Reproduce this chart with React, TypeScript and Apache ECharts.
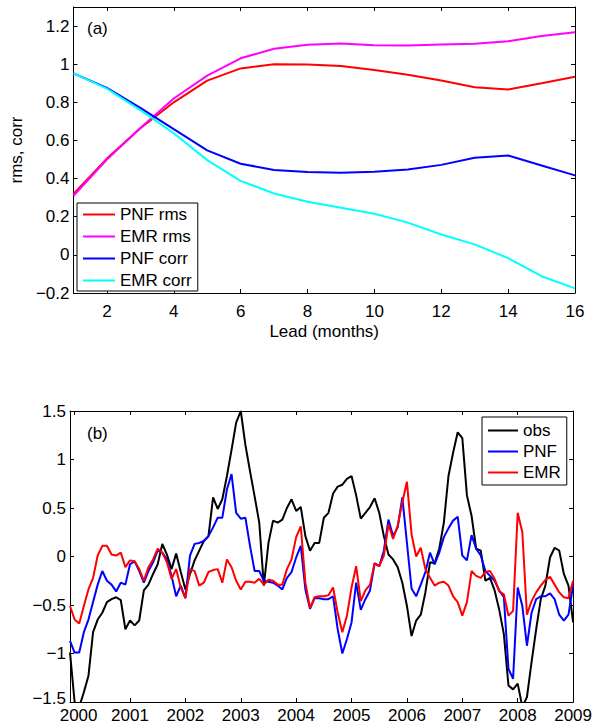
import React, { useEffect, useRef } from 'react';
import * as echarts from 'echarts';

// Panel (a): skill vs lead time
const leads = [1, 2, 3, 4, 5, 6, 7, 8, 9, 10, 11, 12, 13, 14, 15, 16];
const pnfRms = [0.32, 0.505, 0.664, 0.80, 0.914, 0.978, 1.0, 0.998, 0.99, 0.97, 0.945, 0.914, 0.879, 0.867, 0.90, 0.934];
const emrRms = [0.31, 0.50, 0.665, 0.82, 0.94, 1.031, 1.081, 1.102, 1.109, 1.10, 1.098, 1.103, 1.107, 1.12, 1.148, 1.167];
const pnfCorr = [0.952, 0.876, 0.771, 0.659, 0.548, 0.478, 0.445, 0.434, 0.431, 0.436, 0.448, 0.472, 0.509, 0.521, 0.469, 0.417];
const emrCorr = [0.952, 0.872, 0.759, 0.638, 0.497, 0.388, 0.322, 0.279, 0.247, 0.216, 0.169, 0.107, 0.055, -0.017, -0.112, -0.176];
const topXTicks = [2, 4, 6, 8, 10, 12, 14, 16];
const topYTicks = [-0.2, 0, 0.2, 0.4, 0.6, 0.8, 1, 1.2];

// Panel (b): monthly series, first sample Dec 1999
const firstMonth = 1999 + 11 / 12;
const obs = [
  -0.99, -1.50, -1.55, -1.40, -1.23, -0.78, -0.65, -0.58, -0.47, -0.44,
  -0.42, -0.45, -0.75, -0.66, -0.71, -0.66, -0.35, -0.29, -0.18, -0.08,
  0.13, 0.02, -0.13, 0.03, -0.16, -0.34, -0.18, -0.04, 0.06, 0.16,
  0.21, 0.61, 0.49, 0.59, 0.83, 1.10, 1.38, 1.50, 1.15, 0.88,
  0.62, 0.35, -0.30, 0.14, 0.37, 0.35, 0.38, 0.50, 0.59, 0.47,
  0.51, 0.21, 0.06, 0.14, 0.14, 0.40, 0.45, 0.65, 0.72, 0.74,
  0.80, 0.83, 0.63, 0.39, 0.45, 0.51, 0.60, 0.45, 0.21, 0.02,
  -0.03, -0.11, -0.27, -0.51, -0.82, -0.66, -0.60, -0.37, -0.06, -0.07,
  0.08, 0.35, 0.83, 1.07, 1.28, 1.22, 0.63, 0.42, 0.08, 0.06,
  -0.25, -0.22, -0.35, -0.55, -0.80, -1.33, -1.37, -1.31, -1.55, -1.45,
  -1.09, -0.75, -0.44, -0.30, -0.01, 0.09, 0.06, -0.18, -0.30, -0.68,
];
const pnf = [
  -0.87, -0.99, -0.99, -0.78, -0.65, -0.47, -0.29, -0.15, -0.25, -0.29,
  -0.36, -0.27, -0.29, -0.08, -0.05, -0.15, -0.27, -0.15, -0.06, 0.06,
  0.04, -0.03, -0.20, -0.41, -0.30, -0.43, 0.01, 0.13, 0.14, 0.16,
  0.21, 0.30, 0.40, 0.40, 0.69, 0.85, 0.45, 0.39, 0.40, 0.11,
  -0.15, -0.15, -0.25, -0.26, -0.27, -0.30, -0.34, -0.22, -0.16, -0.01,
  0.11, -0.34, -0.54, -0.43, -0.43, -0.44, -0.44, -0.41, -0.75, -1.00,
  -0.85, -0.68, -0.27, -0.55, -0.44, -0.35, -0.07, -0.10, 0.06, 0.38,
  0.21, 0.30, 0.61, 0.14, -0.33, -0.41, -0.29, -0.16, 0.04, -0.08,
  0.04, 0.20, 0.29, 0.37, 0.41, 0.01, -0.04, 0.22, 0.08, 0.01,
  -0.15, -0.20, -0.25, -0.35, -0.42, -1.16, -1.26, -0.32, -0.51, -0.92,
  -0.58, -0.44, -0.41, -0.41, -0.38, -0.44, -0.60, -0.66, -0.60, -0.30,
];
const emr = [
  -0.51, -0.65, -0.69, -0.51, -0.34, -0.22, 0.01, 0.11, 0.11, 0.02,
  0.01, 0.04, -0.11, -0.04, -0.05, -0.13, -0.25, -0.11, -0.03, 0.08,
  0.04, -0.06, -0.23, -0.13, -0.32, -0.43, -0.13, -0.15, -0.30, -0.27,
  -0.16, -0.14, -0.13, -0.27, -0.03, -0.11, -0.25, -0.34, -0.26, -0.26,
  -0.27, -0.23, -0.29, -0.24, -0.25, -0.29, -0.29, -0.13, -0.03, 0.20,
  0.31, -0.27, -0.53, -0.42, -0.41, -0.41, -0.40, -0.32, -0.58, -0.78,
  -0.61, -0.32, -0.10, -0.46, -0.35, -0.29, -0.07, -0.10, 0.01, 0.33,
  0.18, 0.32, 0.56, 0.77, 0.23, 0.00, 0.09, -0.13, -0.22, -0.30,
  -0.27, -0.26, -0.30, -0.41, -0.47, -0.61, -0.47, -0.15, -0.20, -0.22,
  -0.16, -0.15, -0.23, -0.36, -0.39, -0.61, -0.56, 0.45, 0.25, -0.60,
  -0.46, -0.37, -0.30, -0.24, -0.21, -0.29, -0.37, -0.42, -0.43, -0.25,
];
const botXTicks = [2000, 2001, 2002, 2003, 2004, 2005, 2006, 2007, 2008, 2009];
const botYTicks = [-1.5, -1, -0.5, 0, 0.5, 1, 1.5];

const FONT = '"Liberation Sans", Arial, Helvetica, sans-serif';

const fmt = (v: number) => {
  const r = Math.round(v * 100) / 100;
  return r < 0 ? '\u2212' + String(Math.abs(r)) : String(r);
};

function axisPair(
  kind: 'x' | 'y',
  gridIndex: number,
  min: number,
  max: number,
  ticks: number[],
  margin: number,
  extra: any = {},
  labelExtra: any = {}
) {
  const common = {
    type: 'value',
    gridIndex,
    min,
    max,
    splitLine: { show: false },
    axisLine: { show: true, onZero: false, lineStyle: { color: '#000', width: 1 } },
  };
  const main = {
    ...common,
    position: kind === 'x' ? 'bottom' : 'left',
    axisTick: { show: true, inside: true, length: 4, customValues: ticks, lineStyle: { color: '#000' } },
    axisLabel: {
      show: true,
      customValues: ticks,
      margin,
      formatter: (v: number) => fmt(v),
      color: '#000',
      fontSize: 17,
      fontFamily: FONT,
      ...labelExtra,
    },
    ...extra,
  };
  const mirror = {
    ...common,
    position: kind === 'x' ? 'top' : 'right',
    axisTick: { show: true, inside: true, length: 4, customValues: ticks, lineStyle: { color: '#000' } },
    axisLabel: { show: false },
  };
  return [main, mirror];
}

export default function App() {
  const ref = useRef<HTMLDivElement>(null);

  useEffect(() => {
    if (!ref.current) return;
    const chart = echarts.init(ref.current, undefined, { renderer: 'svg' });

    const [x0, x1] = axisPair('x', 0, 1, 16, topXTicks, 10, {
      name: 'Lead (months)',
      nameLocation: 'middle',
      nameGap: 30,
      nameTextStyle: { fontSize: 17, fontFamily: FONT, color: '#000' },
    });
    const [y0, y1] = axisPair('y', 0, -0.2, 1.3, topYTicks, 4, {
      name: 'rms, corr',
      nameLocation: 'middle',
      nameGap: 45,
      nameTextStyle: { fontSize: 17, fontFamily: FONT, color: '#000' },
    });
    const [x2, x3] = axisPair('x', 1, firstMonth, 2009, botXTicks, 5, {}, {
      formatter: (v: number) => (Math.round(v) === botXTicks[0] ? '{first|' + fmt(v) + '}' : fmt(v)),
      rich: { first: { fontSize: 17, fontFamily: FONT, color: '#000', padding: [0, 0, 0, 8] } },
    });
    const [y2, y3] = axisPair('y', 1, -1.5, 1.5, botYTicks, 4, {}, {
      formatter: (v: number) => (Math.abs(v - botYTicks[0]) < 1e-6 ? '{low|' + fmt(v) + '}' : fmt(v)),
      rich: { low: { fontSize: 17, fontFamily: FONT, color: '#000', padding: [0, 0, 8, 0] } },
    });

    const topPairs = (arr: number[]) => leads.map((l, i) => [l, arr[i]]);
    const botPairs = (arr: number[]) => arr.map((v, i) => [firstMonth + i / 12, v]);

    const line = (name: string, color: string, data: number[][], xi: number, yi: number) => ({
      name,
      type: 'line',
      xAxisIndex: xi,
      yAxisIndex: yi,
      data,
      symbol: 'none',
      showSymbol: false,
      clip: true,
      lineStyle: { color, width: 2 },
      itemStyle: { color },
      emphasis: { disabled: true },
    });

    const legendText = { fontSize: 17, fontFamily: FONT, color: '#000' };
    const legendItems = (names: string[]) => names.map((n) => ({ name: n, icon: 'rect' }));

    chart.setOption({
      animation: false,
      textStyle: { fontFamily: FONT },
      grid: [
        { left: 70, top: 7, width: 505, height: 286 },
        { left: 70, top: 411, width: 504, height: 291 },
      ],
      xAxis: [x0, x1, x2, x3],
      yAxis: [y0, y1, y2, y3],
      legend: [
        {
          data: legendItems(['PNF rms', 'EMR rms', 'PNF corr', 'EMR corr']),
          orient: 'vertical',
          left: 77,
          top: 203,
          padding: [3, 6, 2, 6],
          itemGap: 5,
          itemWidth: 32,
          itemHeight: 2,
          borderColor: '#000',
          borderWidth: 1,
          borderRadius: 0,
          backgroundColor: '#fff',
          textStyle: legendText,
          selectedMode: false,
        },
        {
          data: legendItems(['obs', 'PNF', 'EMR']),
          orient: 'vertical',
          left: 482,
          top: 417,
          padding: [5, 6, 4, 6],
          itemGap: 4,
          itemWidth: 30,
          itemHeight: 2,
          borderColor: '#000',
          borderWidth: 1,
          borderRadius: 0,
          backgroundColor: '#fff',
          textStyle: legendText,
          selectedMode: false,
        },
      ],
      graphic: [
        { type: 'text', left: 87, top: 20, style: { text: '(a)', fontSize: 17, fontFamily: FONT, fill: '#000' } },
        { type: 'text', left: 87, top: 425, style: { text: '(b)', fontSize: 17, fontFamily: FONT, fill: '#000' } },
      ],
      series: [
        line('PNF rms', '#ff0000', topPairs(pnfRms), 0, 0),
        line('EMR rms', '#ff00ff', topPairs(emrRms), 0, 0),
        line('PNF corr', '#0000ff', topPairs(pnfCorr), 0, 0),
        line('EMR corr', '#00ffff', topPairs(emrCorr), 0, 0),
        line('obs', '#000000', botPairs(obs), 2, 2),
        line('PNF', '#0000ff', botPairs(pnf), 2, 2),
        line('EMR', '#ff0000', botPairs(emr), 2, 2),
      ],
    });

    return () => chart.dispose();
  }, []);

  return (
    <div
      ref={ref}
      style={{ position: 'fixed', left: 0, top: 0, width: 595, height: 725, background: '#fff' }}
    />
  );
}
